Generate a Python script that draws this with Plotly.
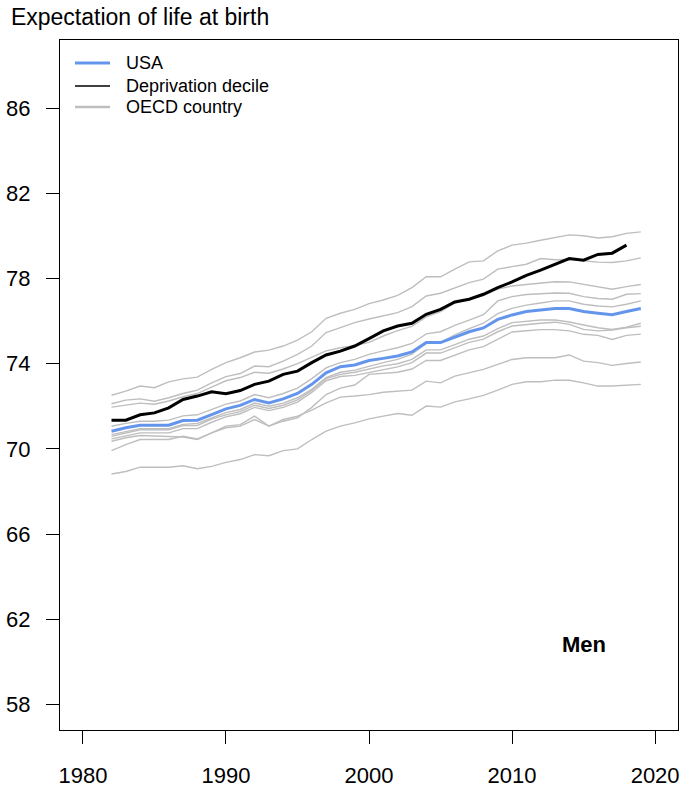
import plotly.graph_objects as go

# Male life expectancy at birth, 1982-2019
years = list(range(1982, 2020))

usa = [70.83, 70.99, 71.11, 71.11, 71.11, 71.33, 71.35, 71.61, 71.88, 72.04,
       72.32, 72.16, 72.35, 72.60, 73.03, 73.57, 73.86, 73.94, 74.15, 74.25,
       74.36, 74.55, 74.99, 74.99, 75.25, 75.50, 75.68, 76.08, 76.29, 76.45,
       76.52, 76.59, 76.59, 76.45, 76.37, 76.30, 76.45, 76.59]

# deprivation decile series stops in 2018
decile_years = list(range(1982, 2019))
decile = [71.35, 71.35, 71.60, 71.69, 71.93, 72.32, 72.48, 72.68, 72.59, 72.74,
          73.03, 73.18, 73.50, 73.65, 74.05, 74.41, 74.59, 74.83, 75.18, 75.54,
          75.77, 75.90, 76.32, 76.55, 76.90, 77.03, 77.26, 77.57, 77.84, 78.15,
          78.39, 78.67, 78.94, 78.86, 79.13, 79.19, 79.57]

oecd_a = [72.52, 72.71, 72.95, 72.87, 73.15, 73.29, 73.37, 73.73, 74.05, 74.28,
          74.55, 74.64, 74.83, 75.11, 75.50, 76.13, 76.37, 76.55, 76.82, 76.99,
          77.21, 77.57, 78.08, 78.08, 78.44, 78.78, 78.83, 79.30, 79.57, 79.66,
          79.80, 79.93, 80.05, 80.01, 79.90, 79.96, 80.12, 80.19]
oecd_b = [72.12, 72.29, 72.35, 72.24, 72.40, 72.60, 72.76, 73.10, 73.39, 73.54,
          73.89, 73.86, 74.12, 74.44, 74.83, 75.46, 75.69, 75.93, 76.10, 76.24,
          76.40, 76.68, 77.18, 77.31, 77.57, 77.81, 77.97, 78.44, 78.56, 78.67,
          78.94, 78.88, 78.89, 78.83, 78.77, 78.75, 78.83, 78.97]
oecd_c = [71.96, 72.05, 72.15, 72.10, 72.25, 72.45, 72.60, 72.90, 73.20, 73.35,
          73.60, 73.55, 73.75, 74.00, 74.30, 74.60, 74.75, 74.85, 75.00, 75.30,
          75.55, 75.75, 76.20, 76.45, 76.85, 77.03, 77.20, 77.50, 77.65, 77.72,
          77.80, 77.85, 77.84, 77.73, 77.62, 77.50, 77.62, 77.72]
oecd_d = [71.06, 71.20, 71.30, 71.30, 71.35, 71.55, 71.60, 71.85, 72.10, 72.25,
          72.55, 72.40, 72.60, 72.85, 73.30, 73.80, 74.05, 74.20, 74.44, 74.60,
          74.75, 74.95, 75.40, 75.50, 75.80, 76.05, 76.30, 76.95, 77.15, 77.25,
          77.30, 77.32, 77.31, 77.15, 77.06, 77.03, 77.26, 77.29]
oecd_e = [70.67, 70.80, 70.95, 70.95, 70.95, 71.15, 71.20, 71.45, 71.70, 71.85,
          72.15, 72.00, 72.15, 72.40, 72.80, 73.35, 73.60, 73.70, 73.89, 74.05,
          74.20, 74.45, 74.95, 75.00, 75.35, 75.65, 75.90, 76.35, 76.60, 76.75,
          76.85, 76.95, 76.95, 76.79, 76.71, 76.67, 76.79, 76.95]
oecd_f = [70.59, 70.75, 70.90, 70.90, 70.90, 71.10, 71.10, 71.40, 71.60, 71.75,
          72.05, 71.90, 72.05, 72.30, 72.75, 73.30, 73.50, 73.60, 73.76, 73.90,
          74.00, 74.20, 74.65, 74.65, 74.90, 75.15, 75.30, 75.65, 75.93, 76.00,
          76.05, 76.05, 75.96, 75.82, 75.69, 75.61, 75.72, 75.90]
oecd_g = [70.47, 70.60, 70.75, 70.75, 70.75, 70.95, 70.95, 71.25, 71.50, 71.65,
          71.95, 71.80, 71.95, 72.20, 72.65, 73.20, 73.40, 73.45, 73.58, 73.70,
          73.85, 74.05, 74.50, 74.50, 74.75, 75.00, 75.15, 75.50, 75.77, 75.85,
          75.90, 75.95, 75.85, 75.61, 75.54, 75.58, 75.69, 75.76]
oecd_h = [70.36, 70.52, 70.63, 70.60, 70.56, 70.56, 70.44, 70.75, 70.99, 71.07,
          71.38, 71.07, 71.30, 71.46, 71.95, 72.55, 72.85, 73.00, 73.50, 73.55,
          73.60, 73.75, 74.15, 74.15, 74.40, 74.65, 74.80, 75.15, 75.49, 75.55,
          75.60, 75.60, 75.54, 75.38, 75.33, 75.14, 75.33, 75.39]
oecd_i = [69.92, 70.20, 70.44, 70.44, 70.44, 70.59, 70.47, 70.75, 71.07, 71.14,
          71.54, 71.07, 71.38, 71.54, 71.82, 72.16, 72.43, 72.48, 72.55, 72.66,
          72.71, 72.76, 73.18, 73.10, 73.42, 73.58, 73.73, 73.97, 74.20, 74.28,
          74.28, 74.28, 74.41, 74.12, 74.05, 73.92, 74.01, 74.08]
oecd_j = [68.82, 68.94, 69.14, 69.14, 69.14, 69.21, 69.07, 69.18, 69.37, 69.50,
          69.73, 69.68, 69.92, 70.00, 70.44, 70.83, 71.07, 71.22, 71.41, 71.54,
          71.66, 71.58, 72.01, 71.96, 72.21, 72.35, 72.51, 72.76, 73.03, 73.15,
          73.15, 73.23, 73.22, 73.10, 72.95, 72.95, 73.00, 73.03]

oecd = [oecd_a, oecd_b, oecd_c, oecd_d, oecd_e, oecd_f, oecd_g, oecd_h, oecd_i, oecd_j]

y_ticks = [58, 62, 66, 70, 74, 78, 82, 86]
x_ticks = [1980, 1990, 2000, 2010, 2020]

legend_labels = ["USA", "Deprivation decile", "OECD country"]

FONT = "Liberation Sans, Arial, sans-serif"
GREY = "#bebebe"
BLUE = "#6495ed"

fig = go.Figure()

# country lines first so the highlighted series sit on top
for series in oecd:
    fig.add_trace(go.Scatter(
        x=years, y=series, mode="lines",
        line=dict(color=GREY, width=1.4),
        name="OECD country", showlegend=False, hoverinfo="skip",
    ))

fig.add_trace(go.Scatter(
    x=decile_years, y=decile, mode="lines",
    line=dict(color="black", width=3),
    name="Deprivation decile", showlegend=False,
))
fig.add_trace(go.Scatter(
    x=years, y=usa, mode="lines",
    line=dict(color=BLUE, width=3),
    name="USA", showlegend=False,
))

# key in the top-left corner of the panel (paper coordinates)
PLOT_W, PLOT_H = 617.7, 690.0
def px_x(px):
    return (px - 60) / PLOT_W
def px_y(py):
    return (730 - py) / PLOT_H

key_styles = [(BLUE, 3), ("black", 1.3), (GREY, 2.5)]
key_rows = [63, 86, 107]
for label, (col, w), row in zip(legend_labels, key_styles, key_rows):
    fig.add_shape(type="line", xref="paper", yref="paper",
                  x0=px_x(75), x1=px_x(110), y0=px_y(row), y1=px_y(row),
                  line=dict(color=col, width=w))
    fig.add_annotation(x=px_x(124), y=px_y(row), xref="paper", yref="paper",
                       text=label, showarrow=False, xanchor="left",
                       yanchor="middle",
                       font=dict(family=FONT, size=18, color="black"))

fig.add_annotation(
    x=2015, y=60.8, xref="x", yref="y", text="<b>Men</b>",
    showarrow=False, font=dict(family=FONT, size=22, color="black"),
)

axis_common = dict(
    showgrid=False, zeroline=False, automargin=False,
    showline=True, mirror=True, linecolor="black", linewidth=1.3,
    ticks="outside", ticklen=13, tickwidth=1, tickcolor="black",
    tickfont=dict(family=FONT, size=22, color="black"),
)

fig.update_xaxes(range=[1978.4, 2021.6], tickvals=x_ticks, ticklabelstandoff=12,
                 **axis_common)
fig.update_yaxes(range=[56.8, 89.2], tickvals=y_ticks, ticklabelstandoff=11,
                 **axis_common)

fig.update_layout(
    width=684, height=788,
    margin=dict(l=60, r=6, t=40, b=58),
    paper_bgcolor="white", plot_bgcolor="white",
    font=dict(family=FONT, color="black"),
    title=dict(text="Expectation of life at birth", x=0.016, xanchor="left",
               y=0.979, yanchor="middle", xref="container", yref="container",
               font=dict(family=FONT, size=23, color="black")),
    showlegend=False,
)

fig.write_html("out.html")
